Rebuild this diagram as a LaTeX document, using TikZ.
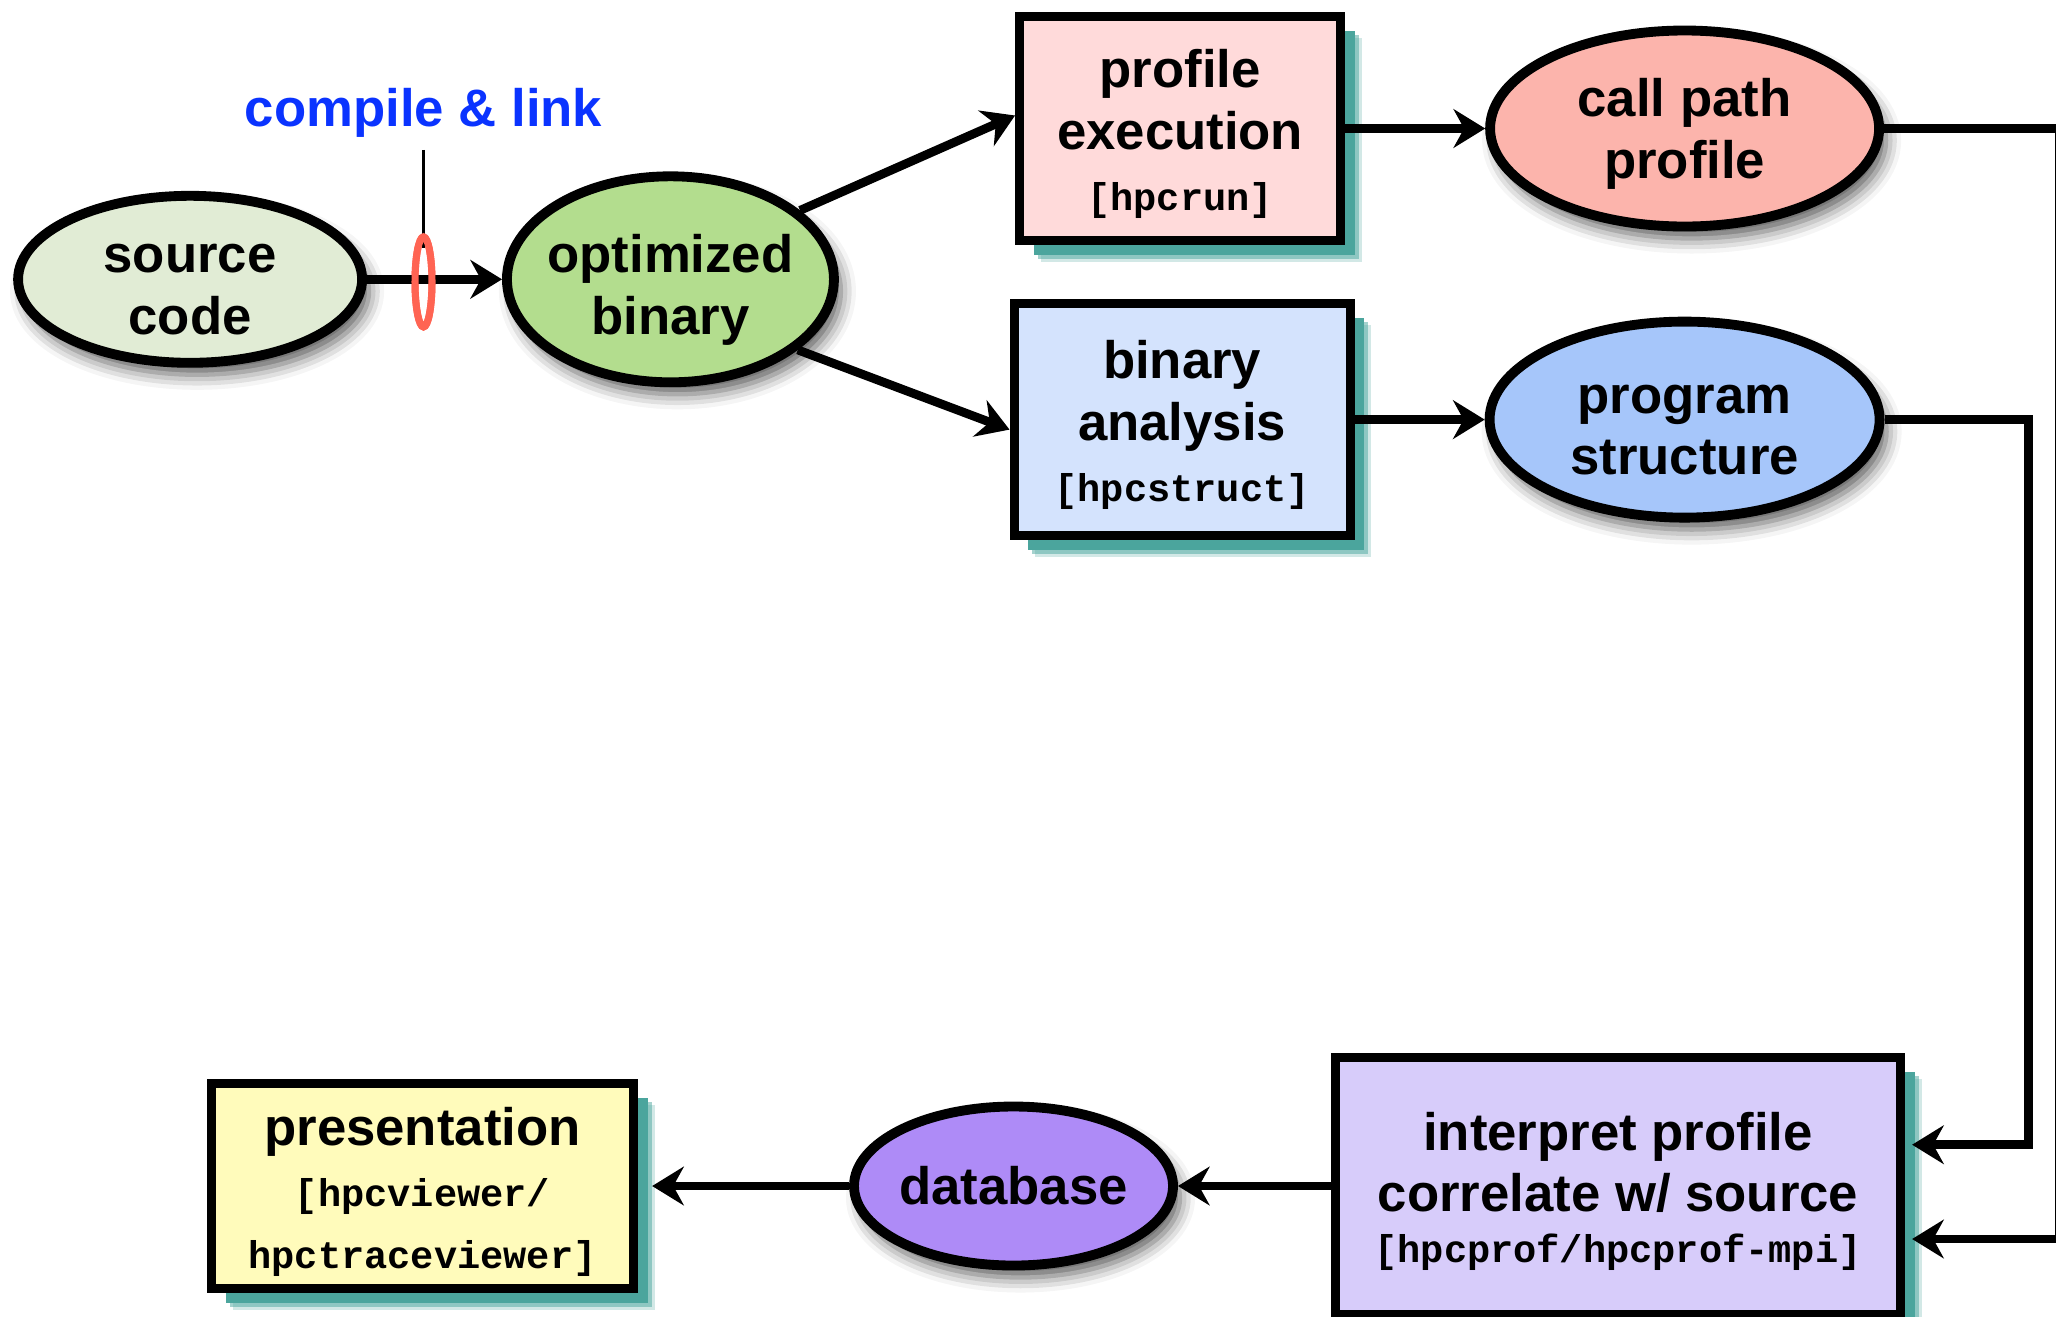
\documentclass[tikz,border=0pt]{standalone}
\usepackage{fontspec}
\setmainfont{Liberation Sans}
\setmonofont{Liberation Mono}
\usetikzlibrary{positioning,shapes.geometric,shadows,shadows.blur,arrows.meta}
\definecolor{srcfill}{HTML}{E1ECD5}
\definecolor{optfill}{HTML}{B3DD8E}
\definecolor{proffill}{HTML}{FFDADA}
\definecolor{cppfill}{HTML}{FCB4AC}
\definecolor{binfill}{HTML}{D4E3FD}
\definecolor{pstfill}{HTML}{A6C6FA}
\definecolor{interpfill}{HTML}{D7CCFA}
\definecolor{dbfill}{HTML}{AE8BF7}
\definecolor{presfill}{HTML}{FFFBBB}
\definecolor{clblue}{HTML}{0A33FF}
\definecolor{ringred}{HTML}{FF6453}
\definecolor{shteal}{HTML}{4BA59D}
\newcommand{\hpctool}[1]{{\ttfamily\fontsize{11}{17.5}\selectfont #1}}
\newcommand{\hpcstrut}{\rule{0pt}{14pt}}
\tikzset{myoval/.style={
  shape=ellipse,
  draw=black,
  line width=2.8pt,
  inner xsep=-4pt,
  inner ysep=0pt,
  align=center,
  font=\bfseries\fontsize{15}{17.5}\selectfont,
  blur shadow={shadow xshift=0.07cm, shadow yshift=-0.12cm, shadow blur radius=0.15cm, shadow opacity=65},
  }
  }
\tikzset{mybox/.style={
  shape=rectangle,
  draw=black,
  line width=2.6pt,
  inner sep=0pt,
  align=center,
  font=\bfseries\fontsize{15}{17.5}\selectfont,
  drop shadow={fill=shteal, opacity=0.25, shadow xshift=0.21cm, shadow yshift=-0.21cm},
  drop shadow={fill=shteal, opacity=0.5, shadow xshift=0.18cm, shadow yshift=-0.18cm},
  drop shadow={fill=shteal, opacity=1, shadow xshift=0.14cm, shadow yshift=-0.14cm},
  }
  }
\tikzset{myarrow/.style={
  line width=2.5pt,
  -{Stealth[length=9pt,width=11pt,inset=3pt]},
  }
  }
\tikzset{myring/.style={
  shape=ellipse,
  draw=ringred,
  line width=2pt,
  inner sep=0pt,
  minimum width=0.17cm,
  minimum height=0.9cm,
  }
  }
\begin{document}
\begin{tikzpicture}[]
  \useasboundingbox (0,0) rectangle (20.56,-13.16);
  \clip (0,0) rectangle (20.56,-13.16);
  \node[myoval, fill=srcfill, minimum width=3.44cm, minimum height=1.67cm] (src) at (1.901,-2.793) {\hpcstrut source\\code};
  \node[myoval, fill=optfill, minimum width=3.27cm, minimum height=2.06cm, right=1.35cm of src] (opt) {\rule{0pt}{17pt}optimized\\binary};
  \node[mybox, fill=proffill, minimum width=3.21cm, minimum height=2.24cm] (prof) at (11.801,-1.285) {\hpcstrut profile\\execution\\\hpctool{[hpcrun]}};
  \node[myoval, fill=cppfill, minimum width=3.89cm, minimum height=1.96cm, right=1.40cm of prof] (cpp) {\hpcstrut call path\\profile};
  \node[mybox, fill=binfill, minimum width=3.36cm, minimum height=2.32cm] (bin) at (11.821,-4.196) {\hpcstrut binary\\analysis\\\hpctool{[hpcstruct]}};
  \node[myoval, fill=pstfill, minimum width=3.90cm, minimum height=1.96cm, right=1.30cm of bin] (pst) {\hpcstrut program\\structure};
  \node[mybox, fill=interpfill, minimum width=5.65cm, minimum height=2.57cm] (interp) at (16.180,-11.860) {\hpcstrut interpret profile\\correlate w/ source\\[-3pt]\hpctool{[hpcprof/hpcprof-mpi]}};
  \node[myoval, fill=dbfill, minimum width=3.19cm, minimum height=1.59cm, left=1.53cm of interp] (db) {database};
  \node[mybox, fill=presfill, minimum width=4.22cm, minimum height=2.05cm, left=2.11cm of db] (pres) {\hpcstrut presentation\\\hpctool{[hpcviewer/}\\\hpctool{hpctraceviewer]}};
  \node[text=clblue, font=\bfseries\fontsize{15}{17.5}\selectfont] (cl) at (4.235,-1.128) {compile \& link};
  \node[myring] (ring) at (4.235,-2.819) {};

  \coordinate (railA) at (20.59,0);
  \coordinate (railB) at (20.284,0);
  \draw[line width=1.1pt] (cl.south) -- ([yshift=0.34cm]ring.center);
  \draw[myarrow] (src) -- (opt);
  \node[myring] at (ring) {};
  \draw[myarrow] (opt.28) -- ([yshift=0.13cm]prof.west);
  \draw[myarrow] (opt.-29) -- ([yshift=-0.1cm]bin.west);
  \draw[myarrow] (prof) -- (cpp);
  \draw[myarrow] (bin) -- (pst);
  \draw[myarrow, shorten >=2pt] (cpp.east) -- (cpp.east -| railA) |- ([yshift=-0.53cm]interp.east);
  \draw[myarrow, shorten >=2pt] (pst.east) -- (pst.east -| railB) |- ([yshift=0.413cm]interp.east);
  \draw[myarrow] (interp) -- (db);
  \draw[myarrow, shorten >=4pt] (db) -- (pres);
\end{tikzpicture}
\end{document}
